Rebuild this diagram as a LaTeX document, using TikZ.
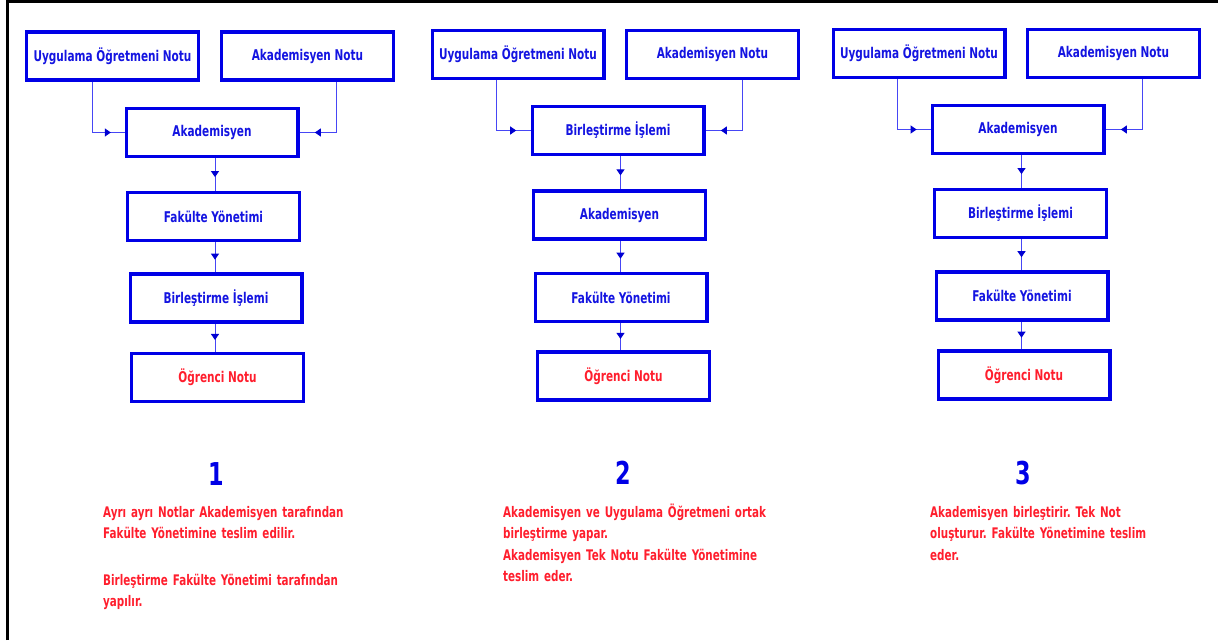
\documentclass[tikz,border=0pt]{standalone}
\usepackage{fontspec}
\setmainfont{DejaVu Sans}[FakeStretch=0.71]
\usetikzlibrary{arrows.meta,decorations.markings,calc}
\definecolor{boxblue}{RGB}{0,0,230}
\definecolor{txtblue}{RGB}{20,20,225}
\definecolor{connblue}{RGB}{70,70,245}
\definecolor{arrblue}{RGB}{0,0,210}
\definecolor{txtred}{RGB}{255,30,45}
\frenchspacing
\begin{document}
\begin{tikzpicture}[x=1pt,y=-1pt,
  box/.style={draw=boxblue,line width=3.3pt,fill=white,minimum width=171.7pt,minimum height=48.2pt,inner sep=0pt,text=txtblue,font=\fontsize{14.8}{16}\selectfont\bfseries},
  redbox/.style={box,text=txtred},
  conn/.style={draw=connblue,line width=1pt},
  midarrow/.style={conn,decoration={markings,mark=at position 0.58 with {\arrow[arrblue]{Triangle[width=8pt,length=6pt]}}},postaction={decorate}},
  note/.style={text=txtred,anchor=base west,text width=330pt,align=left,inner sep=0pt,font=\fontsize{14.6}{21.5}\selectfont\bfseries},
  num/.style={text=boxblue,anchor=base,inner sep=0pt,font=\fontsize{31.5}{32}\selectfont\bfseries}]
\useasboundingbox (0,0) rectangle (1218,640);
\draw[line width=3pt] (7.5,640) -- (7.5,1.5) -- (1218,1.5);

% ---------- column 1 ----------
\node[box] (a1u) at (112.5,56) {Uygulama Öğretmeni Notu};
\node[box] (a1a) at (307.5,56) {Akademisyen Notu};
\node[box] (a1k) at (212,132.5) {Akademisyen};
\node[box] (a1f) at (213.5,216.5) {Fakülte Yönetimi};
\node[box] (a1b) at (216,298) {Birleştirme İşlemi};
\node[redbox] (a1o) at (217.5,377.5) {Öğrenci Notu};
\coordinate (a1ul) at ($(a1u.south west)+(67,0)$);
\coordinate (a1ar) at ($(a1a.south west)+(116,0)$);
\coordinate (v1) at (215,0);
\draw[conn] (a1ul) -- (a1ul |- a1k.west) coordinate (a1uc);
\draw[midarrow] (a1uc) -- (a1k.west);
\draw[conn] (a1ar) -- (a1ar |- a1k.east) coordinate (a1ac);
\draw[midarrow] (a1ac) -- (a1k.east);
\draw[midarrow] (a1k.south -| v1) -- (a1f.north -| v1);
\draw[midarrow] (a1f.south -| v1) -- (a1b.north -| v1);
\draw[midarrow] (a1b.south -| v1) -- (a1o.north -| v1);

% ---------- column 2 ----------
\node[box] (a2u) at (518,54.5) {Uygulama Öğretmeni Notu};
\node[box] (a2a) at (712.5,54.5) {Akademisyen Notu};
\node[box] (a2b) at (618,130.5) {Birleştirme İşlemi};
\node[box] (a2k) at (619.5,215) {Akademisyen};
\node[box] (a2f) at (621,297.5) {Fakülte Yönetimi};
\node[redbox] (a2o) at (623.5,376) {Öğrenci Notu};
\coordinate (a2ul) at ($(a2u.south west)+(66,0)$);
\coordinate (a2ar) at ($(a2a.south west)+(117,0)$);
\coordinate (v2) at (620.5,0);
\draw[conn] (a2ul) -- (a2ul |- a2b.west) coordinate (a2uc);
\draw[midarrow] (a2uc) -- (a2b.west);
\draw[conn] (a2ar) -- (a2ar |- a2b.east) coordinate (a2ac);
\draw[midarrow] (a2ac) -- (a2b.east);
\draw[midarrow] (a2b.south -| v2) -- (a2k.north -| v2);
\draw[midarrow] (a2k.south -| v2) -- (a2f.north -| v2);
\draw[midarrow] (a2f.south -| v2) -- (a2o.north -| v2);

% ---------- column 3 ----------
\node[box] (a3u) at (919,53.5) {Uygulama Öğretmeni Notu};
\node[box] (a3a) at (1113.5,53.5) {Akademisyen Notu};
\node[box] (a3k) at (1018,129.5) {Akademisyen};
\node[box] (a3b) at (1020.5,213.5) {Birleştirme İşlemi};
\node[box] (a3f) at (1022,296) {Fakülte Yönetimi};
\node[redbox] (a3o) at (1024,375) {Öğrenci Notu};
\coordinate (a3ul) at ($(a3u.south west)+(66,0)$);
\coordinate (a3ar) at ($(a3a.south west)+(116,0)$);
\coordinate (v3) at (1021.5,0);
\draw[conn] (a3ul) -- (a3ul |- a3k.west) coordinate (a3uc);
\draw[midarrow] (a3uc) -- (a3k.west);
\draw[conn] (a3ar) -- (a3ar |- a3k.east) coordinate (a3ac);
\draw[midarrow] (a3ac) -- (a3k.east);
\draw[midarrow] (a3k.south -| v3) -- (a3b.north -| v3);
\draw[midarrow] (a3b.south -| v3) -- (a3f.north -| v3);
\draw[midarrow] (a3f.south -| v3) -- (a3o.north -| v3);

% ---------- numbers and notes ----------
\node[num] (n1) at (216,485) {1};
\node[num] (n2) at (623,484) {2};
\node[num] (n3) at (1023,484) {3};
\node[note] (t1) at (103,517) {Ayrı ayrı Notlar Akademisyen tarafından\\Fakülte Yönetimine teslim edilir.\\[25pt]Birleştirme Fakülte Yönetimi tarafından\\yapılır.};
\node[note] (t2) at (503,517) {Akademisyen ve Uygulama Öğretmeni ortak\\birleştirme yapar.\\Akademisyen Tek Notu Fakülte Yönetimine\\teslim eder.};
\node[note] (t3) at (930,517) {Akademisyen birleştirir. Tek Not\\oluşturur. Fakülte Yönetimine teslim\\eder.};
\end{tikzpicture}
\end{document}
